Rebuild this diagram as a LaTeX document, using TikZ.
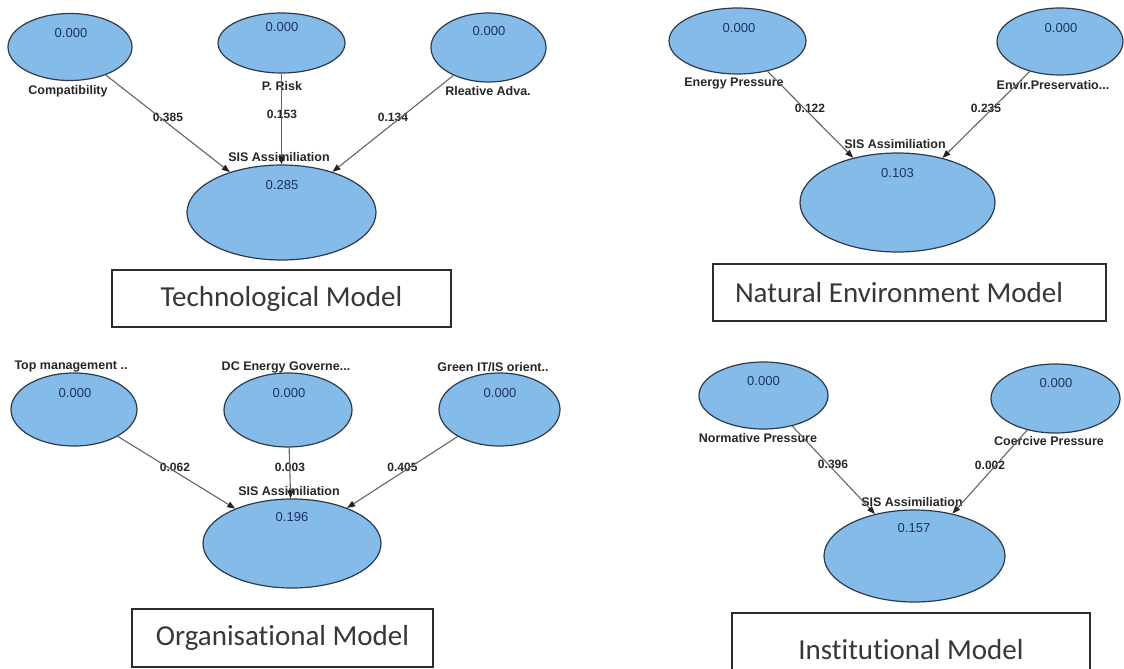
\documentclass[tikz,border=0pt]{standalone}
\usepackage{fontspec}
\setmainfont{Liberation Sans}
\newfontfamily\boxfont[Ligatures={NoCommon,NoRare}]{Carlito}
\usetikzlibrary{shapes.geometric,arrows.meta}
\definecolor{ellfill}{RGB}{133,187,233}
\definecolor{ellborder}{RGB}{45,58,75}
\definecolor{valcol}{RGB}{28,52,92}
\definecolor{labcol}{RGB}{38,38,38}
\definecolor{linecol}{RGB}{100,100,100}
\definecolor{tipcol}{RGB}{35,35,35}
\definecolor{boxcol}{RGB}{45,45,45}
\definecolor{titlecol}{RGB}{55,55,55}
\begin{document}
\begin{tikzpicture}[x=1pt,y=-1pt,
  lv/.style={ellipse,draw=ellborder,fill=ellfill,line width=1.2pt,inner sep=0pt},
  val/.style={font=\fontsize{13}{15}\selectfont,text=valcol,inner sep=0pt},
  lab/.style={font=\fontsize{12.5}{15}\selectfont\bfseries,text=labcol,inner sep=0pt},
  coef/.style={font=\fontsize{12}{14}\selectfont\bfseries,text=labcol,inner sep=0pt},
  link/.style={draw=linecol,line width=1.1pt,-{Triangle[length=8pt,width=6pt,color=tipcol]}},
  title/.style={rectangle,draw=boxcol,line width=1.4pt,inner sep=0pt,fill=white,
    font=\boxfont\fontsize{29}{33}\selectfont,text=titlecol}
]
\useasboundingbox (0,0) rectangle (1124,669);
\clip (0,0) rectangle (1124,669);

% ---------------- Technological model ----------------
\node[lv,minimum width=124pt,minimum height=67pt] (compat) at (70,47) {};
\node[lv,minimum width=127pt,minimum height=60pt] (prisk) at (281.5,43) {};
\node[lv,minimum width=115pt,minimum height=69pt] (rlea) at (488.5,47.5) {};
\node[lv,minimum width=189pt,minimum height=95pt] (sisT) at (281.5,212.5) {};
\node[val] (compatv) at (71,33) {0.000};
\node[val] (priskv) at (282,27) {0.000};
\node[val] (rleav) at (489,31) {0.000};
\node[val] (sisTv) at (282,185) {0.285};
\node[lab] (compatl) at (68,91) {Compatibility};
\node[lab] (priskl) at (282,86) {P. Risk};
\node[lab] (real) at (488,91) {Rleative Adva.};
\node[lab] (sisTl) at (279,157) {SIS Assimiliation};
\node[coef] (cT1) at (168,117) {0.385};
\node[coef] (cT2) at (282,114) {0.153};
\node[coef] (cT3) at (393,117) {0.134};
\draw[link] (compat) -- (sisT);
\draw[link] (prisk) -- (sisT);
\draw[link] (rlea) -- (sisT);
\node[title,minimum width=339pt,minimum height=57pt] (tTech) at (281.5,298.5) {Technological Model};

% ---------------- Natural environment model ----------------
\node[lv,minimum width=137pt,minimum height=66pt] (energy) at (737.5,41) {};
\node[lv,minimum width=126pt,minimum height=67pt] (envir) at (1060,41.5) {};
\node[lv,minimum width=195pt,minimum height=99pt] (sisN) at (897.5,202.5) {};
\node[val] (energyv) at (739,28) {0.000};
\node[val] (envirv) at (1061,28) {0.000};
\node[val] (sisNv) at (897.5,173) {0.103};
\node[lab] (energyl) at (734,84) {Energy Pressure};
\node[lab] (envirl) at (1053,85) {Envir.Preservatio...};
\node[lab] (sisNl) at (895,144) {SIS Assimiliation};
\node[coef] (cN1) at (810,108) {0.122};
\node[coef] (cN2) at (986,108) {0.235};
\draw[link] (energy) -- (sisN);
\draw[link] (envir) -- (sisN);
\node[title,minimum width=393pt,minimum height=57pt] (tNat) at (909.5,292.5) {\makebox[349pt][l]{Natural Environment Model}};

% ---------------- Organisational model ----------------
\node[lv,minimum width=126pt,minimum height=73pt] (topm) at (74,409.5) {};
\node[lv,minimum width=128pt,minimum height=74pt] (dceg) at (288,410) {};
\node[lv,minimum width=121pt,minimum height=73pt] (green) at (499.5,409.5) {};
\node[lv,minimum width=178pt,minimum height=89pt] (sisO) at (292,543.5) {};
\node[val] (topmv) at (75,393) {0.000};
\node[val] (dcegv) at (289,393) {0.000};
\node[val] (greenv) at (500,393) {0.000};
\node[val] (sisOv) at (292,517) {0.196};
\node[lab] (topml) at (71,367) {Top management ..};
\node[lab] (dcegl) at (286,367) {DC Energy Governe...};
\node[lab] (greenl) at (493,367) {Green IT/IS orient..};
\node[lab] (sisOl) at (289,491) {SIS Assimiliation};
\node[coef] (cO1) at (175,467) {0.062};
\node[coef] (cO2) at (290,467) {0.003};
\node[coef] (cO3) at (402.5,467) {0.405};
\draw[link] (topm) -- (sisO);
\draw[link] (dceg) -- (sisO);
\draw[link] (green) -- (sisO);
\node[title,minimum width=301pt,minimum height=58pt] (tOrg) at (282.5,638) {Organisational Model};

% ---------------- Institutional model ----------------
\node[lv,minimum width=129pt,minimum height=67pt] (norm) at (763.5,395.5) {};
\node[lv,minimum width=129pt,minimum height=69pt] (coer) at (1055.5,398.5) {};
\node[lv,minimum width=181pt,minimum height=92pt] (sisI) at (914.5,556) {};
\node[val] (normv) at (763.5,381) {0.000};
\node[val] (coerv) at (1056,383) {0.000};
\node[val] (sisIv) at (914,528) {0.157};
\node[lab] (norml) at (758,438) {Normative Pressure};
\node[lab] (coerl) at (1049,441) {Coercive Pressure};
\node[lab] (sisIl) at (912,502) {SIS Assimiliation};
\node[coef] (cI1) at (833,464) {0.396};
\node[coef] (cI2) at (990,465) {0.002};
\draw[link] (norm) -- (sisI);
\draw[link] (coer) -- (sisI);
\node[title,minimum width=358pt,minimum height=74pt] (tInst) at (911,650) {Institutional Model};
\end{tikzpicture}
\end{document}
